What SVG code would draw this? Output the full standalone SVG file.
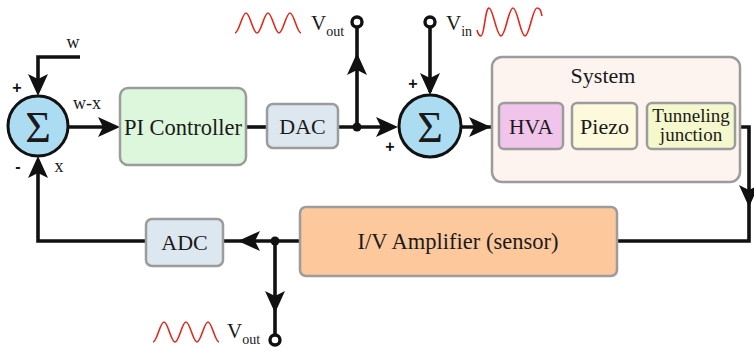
<svg xmlns="http://www.w3.org/2000/svg" xmlns:xlink="http://www.w3.org/1999/xlink" width="754" height="351" viewBox="0 0 754 351">
<style>
.box{stroke:#9c9c9c;stroke-width:2.5}
.ln{fill:none;stroke:#111;stroke-width:3.6}
.ah{fill:#111}
.sum{fill:#acdcf1;stroke:#111;stroke-width:3}
.t{font-family:"Liberation Serif","Times New Roman",serif;fill:#1a1a1a}
.pm{font-family:"Liberation Sans",Arial,sans-serif;font-weight:bold;font-size:16px;fill:#111}
.wave{fill:none;stroke:#e0281c;stroke-width:1.6}
.term{fill:#fff;stroke:#111;stroke-width:3.4}
</style>
<defs>
<path id="ah" d="M0,0 L-22,-10 L-17,0 L-22,10 Z"/>
<path id="wv" d="M235,33 C238.96,33 242.04,13 246,13 S252.96,33 257,33 S264.04,13 268,13 S275.04,33 279,33 S286.04,13 290,13 S297.04,33 301,33"/>
</defs>

<g id="connectors">
  <path class="ln" d="M80,57 H38 V92"/>
  <path class="ln" d="M146,241 H38 V160"/>
  <path class="ln" d="M68,127 H116"/>
  <path class="ln" d="M246,127 H267"/>
  <path class="ln" d="M338,127 H394"/>
  <path class="ln" d="M357,127 V28"/>
  <path class="ln" d="M430,28 V92"/>
  <path class="ln" d="M461,127 H499"/>
  <path class="ln" d="M563,127 H572"/>
  <path class="ln" d="M637,127 H647"/>
  <path class="ln" d="M735,127 H749 V241 H617"/>
  <path class="ln" d="M223,241 H300"/>
  <path class="ln" d="M275,241 V334"/>
  <use class="ah" xlink:href="#ah" transform="translate(38,96) rotate(90)"/>
  <use class="ah" xlink:href="#ah" transform="translate(38,156) rotate(-90)"/>
  <use class="ah" xlink:href="#ah" transform="translate(120,127)"/>
  <use class="ah" xlink:href="#ah" transform="translate(357,53) rotate(-90)"/>
  <use class="ah" xlink:href="#ah" transform="translate(398,127)"/>
  <use class="ah" xlink:href="#ah" transform="translate(430,95) rotate(90)"/>
  <use class="ah" xlink:href="#ah" transform="translate(491,127)"/>
  <use class="ah" xlink:href="#ah" transform="translate(749,207) rotate(90)"/>
  <use class="ah" xlink:href="#ah" transform="translate(238,241) rotate(180)"/>
  <use class="ah" xlink:href="#ah" transform="translate(275,313) rotate(90)"/>
  <circle cx="357" cy="127" r="4.5" fill="#111"/>
  <circle cx="275" cy="241" r="4.5" fill="#111"/>
  <circle class="term" cx="357" cy="22" r="5"/>
  <circle class="term" cx="430" cy="22" r="5"/>
  <circle class="term" cx="275" cy="340" r="5"/>
</g>

<g id="sum1">
  <circle class="sum" cx="38" cy="126" r="30"/>
  <text class="t" x="38" y="142" font-size="44" text-anchor="middle">Σ</text>
  <text class="pm" x="17" y="93" text-anchor="middle">+</text>
  <text class="pm" x="18" y="172" text-anchor="middle">-</text>
  <text class="t" x="73" y="48" font-size="18" text-anchor="middle">w</text>
  <text class="t" x="87" y="109" font-size="18" text-anchor="middle">w-x</text>
  <text class="t" x="59" y="172" font-size="18" text-anchor="middle">x</text>
</g>

<g id="pi">
  <rect class="box" x="120" y="88" width="126" height="77" rx="8" fill="#dcf7dc"/>
  <text class="t" x="183" y="135" font-size="22.5" text-anchor="middle">PI Controller</text>
</g>

<g id="dac">
  <rect class="box" x="267" y="104" width="71" height="44" rx="6" fill="#dde7f0"/>
  <text class="t" x="302.5" y="134" font-size="22" text-anchor="middle">DAC</text>
</g>

<g id="vout-top">
  <use class="wave" xlink:href="#wv"/>
  <text class="t" x="311" y="30" font-size="21">V<tspan font-size="14" dy="6">out</tspan></text>
</g>

<g id="vin">
  <path class="wave" d="M477,30 C478,34 479.5,36 481,36 C484.5,36 485,8 489,8 S496.5,36 501,36 S508.5,8 513,8 S520.5,36 525,36 S532.5,8 537,8 S541,13 542,16"/>
  <text class="t" x="446" y="30" font-size="21">V<tspan font-size="14" dy="6">in</tspan></text>
</g>

<g id="sum2">
  <circle class="sum" cx="430" cy="126" r="31"/>
  <text class="t" x="430" y="142" font-size="44" text-anchor="middle">Σ</text>
  <text class="pm" x="413" y="89" text-anchor="middle">+</text>
  <text class="pm" x="390" y="152" text-anchor="middle">+</text>
</g>

<g id="system">
  <rect class="box" x="492" y="57" width="248" height="125" rx="10" fill="#fdf3ef"/>
  <text class="t" x="603" y="83" font-size="22" text-anchor="middle">System</text>
</g>

<g id="hva">
  <rect class="box" x="499" y="103" width="64" height="46" rx="5" fill="#f1c4ec"/>
  <text class="t" x="531" y="134" font-size="21.5" text-anchor="middle">HVA</text>
</g>

<g id="piezo">
  <rect class="box" x="572" y="103" width="65" height="46" rx="5" fill="#fdf9dd"/>
  <text class="t" x="604.5" y="134" font-size="22" text-anchor="middle">Piezo</text>
</g>

<g id="tunneling">
  <rect class="box" x="647" y="103" width="88" height="46" rx="5" fill="#f5f8cc"/>
  <text class="t" x="691" y="122" font-size="19" text-anchor="middle">Tunneling</text>
  <text class="t" x="691" y="141" font-size="19" text-anchor="middle">junction</text>
</g>

<g id="iv">
  <rect class="box" x="300" y="207" width="317" height="69" rx="6" fill="#fdc89c"/>
  <text class="t" x="458" y="249" font-size="22.5" text-anchor="middle">I/V Amplifier (sensor)</text>
</g>

<g id="adc">
  <rect class="box" x="146" y="219" width="77" height="47" rx="6" fill="#dde7f0"/>
  <text class="t" x="184.5" y="250" font-size="22" text-anchor="middle">ADC</text>
</g>

<g id="vout-bottom">
  <use class="wave" xlink:href="#wv" transform="translate(-82,309)"/>
  <text class="t" x="227" y="338" font-size="21">V<tspan font-size="14" dy="6">out</tspan></text>
</g>
</svg>
